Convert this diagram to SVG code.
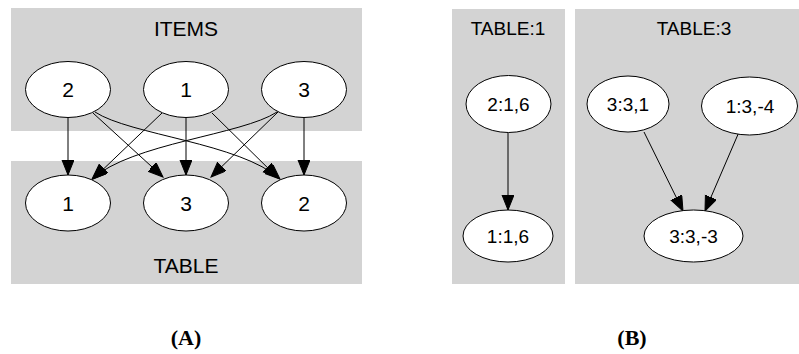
<svg xmlns="http://www.w3.org/2000/svg" width="799" height="354" viewBox="0 0 799 354">
<style>
.cl{fill:#d3d3d3;stroke:none}
.nd{fill:#ffffff;stroke:#000;stroke-width:1}
.tl{font-family:"Liberation Sans",Arial,sans-serif;font-size:21px;fill:#000;text-anchor:middle}
.tr{font-family:"Liberation Sans",Arial,sans-serif;font-size:19px;fill:#000;text-anchor:middle}
.cap{font-family:"Liberation Serif","Times New Roman",serif;font-size:22px;font-weight:bold;fill:#000;text-anchor:middle}
.ed{fill:none;stroke:#000;stroke-width:1;marker-end:url(#ah)}
</style>
<defs>
<marker id="ah" markerUnits="userSpaceOnUse" markerWidth="16" markerHeight="14" refX="15" refY="6" orient="auto">
<path d="M0,0 L15,6 L0,12 Z" fill="#000" stroke="#000" stroke-width="1"/>
</marker>
</defs>
<rect width="799" height="354" fill="#fff"/>
<g id="cluster_items"><rect class="cl" x="11" y="8" width="351" height="123"/><text class="tl" x="186" y="36">ITEMS</text></g>
<g id="cluster_table"><rect class="cl" x="11" y="161" width="351" height="123"/><text class="tl" x="186" y="273">TABLE</text></g>
<g id="cluster_table1"><rect class="cl" x="452" y="9" width="113" height="275"/><text class="tr" x="508" y="35">TABLE:1</text></g>
<g id="cluster_table3"><rect class="cl" x="575" y="9" width="224" height="275"/><text class="tr" x="694" y="35">TABLE:3</text></g>
<g id="connectors">
<path class="ed" d="M68,118 L68,175"/>
<path class="ed" d="M93,113 L163,177"/>
<path class="ed" d="M95,112 C130,135 240,143 280,179"/>
<path class="ed" d="M162,113 L93,179"/>
<path class="ed" d="M186,118 L186,175"/>
<path class="ed" d="M212,113 L278,178"/>
<path class="ed" d="M277,112 C242,135 132,143 92,179"/>
<path class="ed" d="M278,112 L211,177"/>
<path class="ed" d="M304,118 L304,175"/>
<path class="ed" d="M508,133 L508,210"/>
<path class="ed" d="M644,132 L683,211"/>
<path class="ed" d="M739,132 L705,211"/>
</g>
<g id="n_i2"><ellipse class="nd" cx="68" cy="89.5" rx="42.5" ry="28"/><text class="tl" x="68" y="97">2</text></g>
<g id="n_i1"><ellipse class="nd" cx="186" cy="89.5" rx="42.5" ry="28"/><text class="tl" x="186" y="97">1</text></g>
<g id="n_i3"><ellipse class="nd" cx="304" cy="89.5" rx="42.5" ry="28"/><text class="tl" x="304" y="97">3</text></g>
<g id="n_t1"><ellipse class="nd" cx="68" cy="203" rx="42.5" ry="28"/><text class="tl" x="68" y="211">1</text></g>
<g id="n_t3"><ellipse class="nd" cx="186" cy="203" rx="42.5" ry="28"/><text class="tl" x="186" y="211">3</text></g>
<g id="n_t2"><ellipse class="nd" cx="304" cy="203" rx="42.5" ry="28"/><text class="tl" x="304" y="211">2</text></g>
<g id="n_216"><ellipse class="nd" cx="508.5" cy="104" rx="42.5" ry="28.5"/><text class="tr" x="508.5" y="110.5">2:1,6</text></g>
<g id="n_116"><ellipse class="nd" cx="508" cy="236" rx="45" ry="26"/><text class="tr" x="508" y="243">1:1,6</text></g>
<g id="n_331"><ellipse class="nd" cx="628" cy="104" rx="41" ry="28"/><text class="tr" x="628" y="110.5">3:3,1</text></g>
<g id="n_13m4"><ellipse class="nd" cx="749.5" cy="106" rx="48" ry="29"/><text class="tr" x="750" y="112.5">1:3,-4</text></g>
<g id="n_33m3"><ellipse class="nd" cx="693.5" cy="236" rx="49.5" ry="26"/><text class="tr" x="693.5" y="243">3:3,-3</text></g>
<text class="cap" x="186" y="345">(A)</text>
<text class="cap" x="632" y="345">(B)</text>
</svg>
